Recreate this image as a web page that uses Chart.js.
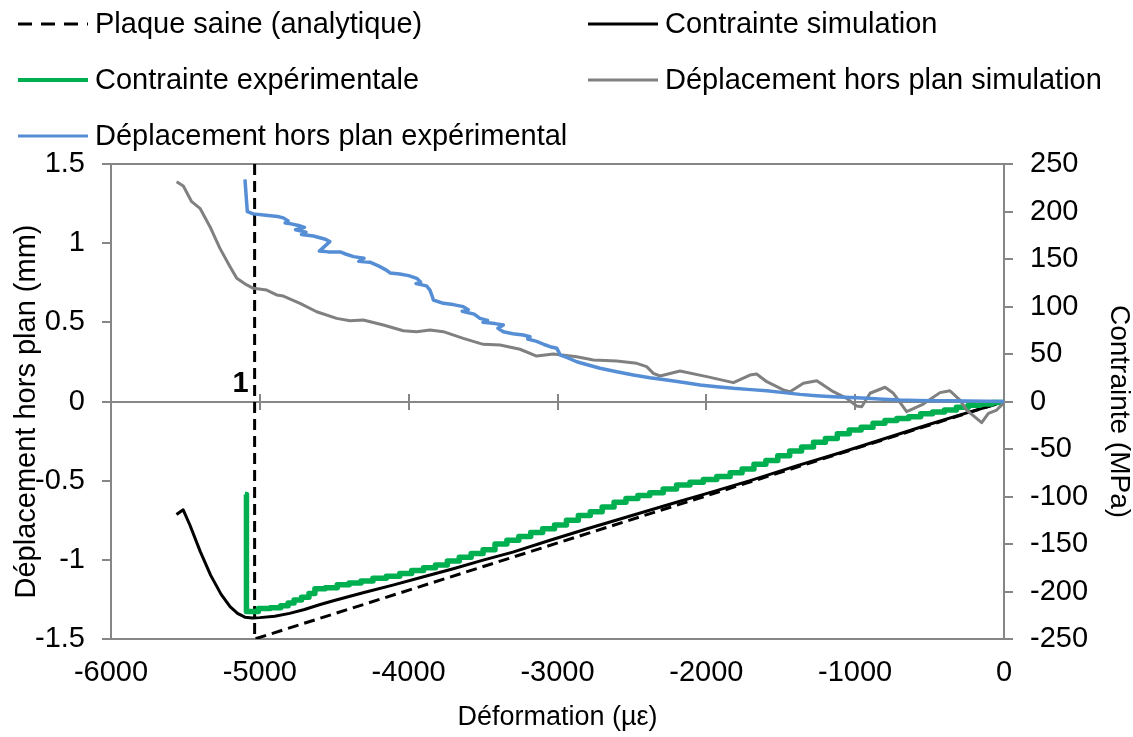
<!DOCTYPE html>
<html>
<head>
<meta charset="utf-8">
<script src="https://cdn.jsdelivr.net/npm/chart.js@4.4.1/dist/chart.umd.min.js"></script>
<style>
  html, body { margin: 0; padding: 0; background: #ffffff; }
  #wrap { width: 1133px; height: 737px; position: relative; }
</style>
</head>
<body>
<div id="wrap"><canvas id="c" width="1133" height="737"></canvas></div>
<script>
// ---- Axis ticks ----
const strainTicks = [-6000, -5000, -4000, -3000, -2000, -1000, 0];
const dispTicks = [-1.5, -1, -0.5, 0, 0.5, 1, 1.5];
const stressTicks = [-250, -200, -150, -100, -50, 0, 50, 100, 150, 200, 250];

// ---- Series labels ----
const seriesNames = [
  'Plaque saine (analytique)',
  'Contrainte simulation',
  'Contrainte expérimentale',
  'Déplacement hors plan simulation',
  'Déplacement hors plan expérimental'
];
const bucklingLabel = '1';

// ---- Plaque saine (analytique) : contrainte (MPa) vs déformation (µε) ----
const analyticStrain = [-5035, -5035, 0];
const analyticStress = [250, -250, 0];

// ---- Contrainte simulation (MPa) ----
const simStrain = [-5560, -5515, -5470, -5400, -5330, -5260, -5200, -5150, -5100, -5050, -5000, -4900, -4800, -4700,
  -4600, -4500, -4300, -4100, -3900, -3700, -3500, -3300, -3050, -2800, -2500, -2200, -2000, -1700, -1400, -1100,
  -800, -500, -250, -100, 0];
const simStress = [-119, -114, -130, -158, -183, -203, -216, -223, -227, -228, -227.5, -226, -223, -219,
  -214, -209.5, -201, -193, -184.5, -176, -167, -158.5, -146, -134, -120, -106, -97, -83, -68, -54,
  -39, -24, -12, -5, 0];

// ---- Contrainte expérimentale (MPa) ----
const expStrain = [-5100, -5090, -5010, -4930, -4860, -4810, -4770, -4720, -4670, -4630, -4560, -4480, -4400, -4320,
  -4240, -4150, -4060, -3980, -3900, -3820, -3740, -3660, -3580, -3500, -3420, -3340, -3260, -3180, -3100, -3020,
  -2940, -2860, -2780, -2700, -2620, -2540, -2460, -2380, -2290, -2200, -2110, -2020, -1930, -1840, -1760, -1680,
  -1600, -1520, -1440, -1360, -1280, -1200, -1120, -1040, -960, -880, -800, -720, -640, -560, -480, -400, -320,
  -240, -160, -80, 0];
const expStress = [-98, -221, -218, -217, -215, -212, -209, -206, -202, -197, -196, -193, -191, -189,
  -186, -184, -181, -178, -175, -172, -168, -164, -160, -156, -150, -146, -142, -138, -134, -130,
  -125, -120, -116, -111, -106, -102, -99, -96, -92, -88, -85, -82, -79, -75, -71, -66,
  -62, -57, -52, -48, -43, -39, -34, -30, -27, -23, -20, -18, -16, -13, -11, -9, -6,
  -4, -2.5, -1, 0];

// ---- Déplacement hors plan simulation (mm) ----
const simDispStrain = [-5559, -5514, -5458, -5402, -5335, -5268, -5200, -5155, -5088, -5043, -4954, -4887, -4842,
  -4730, -4618, -4484, -4394, -4305, -4170, -4036, -3946, -3857, -3767, -3633, -3499, -3386, -3252, -3140, -3028,
  -2871, -2759, -2602, -2468, -2401, -2356, -2311, -2177, -1997, -1818, -1707, -1662, -1594, -1483, -1438, -1348,
  -1258, -1147, -1057, -990, -956, -900, -799, -743, -654, -542, -430, -363, -296, -251, -150, -105, -49, -4, 0];
const simDisp = [1.388, 1.361, 1.262, 1.22, 1.104, 0.967, 0.851, 0.778, 0.736, 0.715, 0.704, 0.673, 0.666,
  0.62, 0.567, 0.525, 0.51, 0.515, 0.483, 0.447, 0.441, 0.452, 0.441, 0.399, 0.361, 0.357, 0.33, 0.287, 0.300,
  0.283, 0.262, 0.256, 0.241, 0.22, 0.178, 0.161, 0.193, 0.157, 0.119, 0.167, 0.174, 0.125, 0.073, 0.062, 0.115,
  0.131, 0.062, 0.02, -0.028, -0.033, 0.052, 0.09, 0.052, -0.064, -0.016, 0.056, 0.068, 0.009, -0.054, -0.134,
  -0.075, -0.054, -0.011, 0];

// ---- Déplacement hors plan expérimental (mm) ----
const expDispStrain = [-5100, -5084, -5044, -4960, -4880, -4842, -4810, -4830, -4790, -4740, -4700, -4760, -4690,
  -4720, -4640, -4560, -4530, -4600, -4540, -4460, -4420, -4370, -4300, -4335, -4260, -4200, -4150, -4125, -4060,
  -4000, -3946, -3920, -3950, -3880, -3857, -3840, -3834, -3767, -3700, -3633, -3600, -3640, -3560, -3521, -3470,
  -3500, -3420, -3364, -3400, -3364, -3300, -3230, -3185, -3200, -3140, -3090, -3050, -3005, -2990, -2983, -2930,
  -2871, -2800, -2714, -2602, -2490, -2380, -2266, -2150, -2042, -1930, -1818, -1700, -1594, -1480, -1371, -1260,
  -1147, -1030, -922, -810, -699, -590, -475, -360, -250, -120, 0];
const expDisp = [1.403, 1.199, 1.185, 1.176, 1.168, 1.160, 1.140, 1.128, 1.122, 1.112, 1.100, 1.085, 1.070,
  1.055, 1.045, 1.025, 1.010, 0.950, 0.945, 0.945, 0.930, 0.915, 0.905, 0.885, 0.880, 0.855, 0.830, 0.812, 0.805,
  0.795, 0.778, 0.755, 0.745, 0.730, 0.704, 0.660, 0.641, 0.620, 0.612, 0.599, 0.580, 0.570, 0.552, 0.525, 0.512,
  0.500, 0.492, 0.483, 0.462, 0.440, 0.428, 0.420, 0.409, 0.395, 0.380, 0.360, 0.346, 0.336, 0.310, 0.294, 0.275,
  0.251, 0.232, 0.210, 0.188, 0.167, 0.150, 0.136, 0.120, 0.104, 0.093, 0.083, 0.075, 0.068, 0.056, 0.045, 0.037,
  0.030, 0.025, 0.020, 0.014, 0.009, 0.007, 0.005, 0.004, 0.003, 0.002, 0];

const pts = (xs, ys) => xs.map((x, i) => ({ x: x, y: ys[i] }));

const FONT = '"Liberation Sans", Arial, Helvetica, sans-serif';
const TXT = '#000000';
const AXIS = '#868686';
const FS = 29;

// Legend in two columns, rotated vertical-axis titles, zero-line ticks and marker label
const decorPlugin = {
  id: 'decor',
  beforeDatasetsDraw(chart) {
    const ctx = chart.ctx;
    const xs = chart.scales.x;
    const y0 = Math.round(chart.scales.y.getPixelForValue(0));
    ctx.save();
    ctx.strokeStyle = AXIS;
    ctx.lineWidth = 2;
    xs.ticks.forEach(t => {
      const px = Math.round(xs.getPixelForValue(t.value));
      ctx.beginPath();
      ctx.moveTo(px, y0 - 8);
      ctx.lineTo(px, y0 + 8);
      ctx.stroke();
    });
    ctx.restore();
  },
  afterDraw(chart) {
    const ctx = chart.ctx;
    const area = chart.chartArea;
    ctx.save();
    // legend
    const colX = [18, 588];
    const rowY = [24, 80, 136];
    const sampleLen = 70;
    chart.data.datasets.forEach((ds, i) => {
      const x = colX[i % 2];
      const y = rowY[Math.floor(i / 2)];
      ctx.strokeStyle = ds.borderColor;
      ctx.lineWidth = ds.legendWidth;
      ctx.setLineDash(ds.legendDash || []);
      ctx.beginPath();
      ctx.moveTo(x, y);
      ctx.lineTo(x + sampleLen, y);
      ctx.stroke();
      ctx.setLineDash([]);
      ctx.fillStyle = TXT;
      ctx.font = FS + 'px ' + FONT;
      ctx.textAlign = 'left';
      ctx.textBaseline = 'middle';
      ctx.fillText(ds.label, x + sampleLen + 7, y + 1);
    });
    // vertical axis titles
    const midY = (area.top + area.bottom) / 2 + 10;
    ctx.fillStyle = TXT;
    ctx.textAlign = 'center';
    ctx.textBaseline = 'middle';
    ctx.save();
    ctx.font = '29px ' + FONT;
    ctx.translate(27, midY);
    ctx.rotate(-Math.PI / 2);
    ctx.fillText('Déplacement hors plan (mm)', 0, 0);
    ctx.restore();
    ctx.save();
    ctx.font = '28px ' + FONT;
    ctx.translate(1119, midY);
    ctx.rotate(Math.PI / 2);
    ctx.fillText('Contrainte (MPa)', 0, 0);
    ctx.restore();
    // buckling marker label
    const mx = chart.scales.x.getPixelForValue(analyticStrain[0]);
    const my = chart.scales.y.getPixelForValue(0);
    ctx.font = 'bold 29px ' + FONT;
    ctx.textAlign = 'center';
    ctx.textBaseline = 'middle';
    ctx.fillText(bucklingLabel, mx - 14, my - 18);
    ctx.restore();
  }
};

const tickFont = { family: FONT, size: FS };

new Chart(document.getElementById('c'), {
  type: 'scatter',
  data: {
    datasets: [
      {
        label: seriesNames[0], yAxisID: 'y1', data: pts(analyticStrain, analyticStress),
        borderColor: '#000000', borderWidth: 3, borderDash: [11, 6], legendDash: [14, 9], legendWidth: 3, order: 5
      },
      {
        label: seriesNames[1], yAxisID: 'y1', data: pts(simStrain, simStress),
        borderColor: '#000000', borderWidth: 3, legendWidth: 3, order: 4
      },
      {
        label: seriesNames[2], yAxisID: 'y1', data: pts(expStrain, expStress),
        borderColor: '#00B050', borderWidth: 5.5, stepped: 'before', legendWidth: 4, order: 3
      },
      {
        label: seriesNames[3], yAxisID: 'y', data: pts(simDispStrain, simDisp),
        borderColor: '#808080', borderWidth: 3, legendWidth: 3, order: 2
      },
      {
        label: seriesNames[4], yAxisID: 'y', data: pts(expDispStrain, expDisp),
        borderColor: '#558ED5', borderWidth: 3.5, legendWidth: 3, order: 1
      }
    ]
  },
  options: {
    responsive: false,
    animation: false,
    events: [],
    showLine: true,
    elements: { point: { radius: 0 }, line: { tension: 0, borderJoinStyle: 'round', borderCapStyle: 'butt' } },
    layout: { padding: { top: 164, left: 0, right: 0, bottom: 0 } },
    plugins: { legend: { display: false }, tooltip: { enabled: false } },
    scales: {
      x: {
        type: 'linear', position: 'bottom', min: -6000, max: 0,
        afterBuildTicks: s => { s.ticks = strainTicks.map(v => ({ value: v })); },
        afterFit: s => { s.height = 98; },
        ticks: { font: tickFont, color: TXT, padding: 17, maxRotation: 0, autoSkip: false, callback: v => String(v) },
        grid: { display: false, drawTicks: false },
        border: { display: false },
        title: { display: true, text: 'Déformation (µε)', font: { family: FONT, size: 27 }, color: TXT, padding: { top: 0, bottom: 3 } }
      },
      y: {
        type: 'linear', position: 'left', min: -1.5, max: 1.5,
        afterBuildTicks: s => { s.ticks = dispTicks.map(v => ({ value: v })); },
        afterFit: s => { s.width = 111; },
        ticks: { font: tickFont, color: TXT, padding: 17, callback: v => String(v) },
        grid: {
          drawOnChartArea: true, drawTicks: true, tickLength: 9, lineWidth: 2, tickColor: AXIS,
          color: c => (c.tick && (c.tick.value === 0 || c.tick.value === 1.5 || c.tick.value === -1.5)) ? AXIS : 'rgba(0,0,0,0)'
        },
        border: { display: true, color: AXIS, width: 2 }
      },
      y1: {
        type: 'linear', position: 'right', min: -250, max: 250,
        afterBuildTicks: s => { s.ticks = stressTicks.map(v => ({ value: v })); },
        afterFit: s => { s.width = 129; },
        ticks: { font: tickFont, color: TXT, padding: 17, callback: v => String(v) },
        grid: { drawOnChartArea: false, drawTicks: true, tickLength: 9, lineWidth: 2, color: AXIS, tickColor: AXIS },
        border: { display: true, color: AXIS, width: 2 }
      }
    }
  },
  plugins: [decorPlugin]
});
</script>
</body>
</html>
